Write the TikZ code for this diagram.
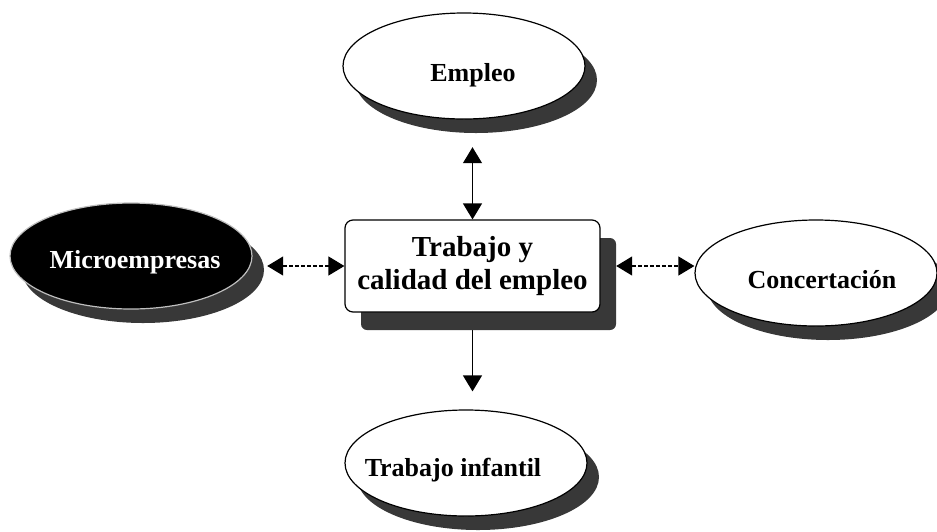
\documentclass[tikz,border=0pt]{standalone}
\usepackage{fontspec}
\setmainfont{Liberation Serif}
\usetikzlibrary{arrows.meta,shapes.geometric,backgrounds}
\begin{document}
\begin{tikzpicture}[x=1pt,y=-1pt,
  ell/.style={ellipse,draw=black,line width=1.2pt,fill=white,minimum width=242pt,minimum height=106pt,inner sep=0pt},
  ellsh/.style={ellipse,fill=black!78,minimum width=242pt,minimum height=106pt,inner sep=0pt},
  lbl/.style={font=\fontsize{26}{30}\selectfont\bfseries,inner sep=0pt},
  conn/.style={line width=1.2pt,{Triangle[length=16pt,width=19pt]}-{Triangle[length=16pt,width=19pt]}},
  hconn/.style={conn,dash pattern=on 4pt off 2pt}]
\useasboundingbox (0,0) rectangle (937,531);
% shadows
\node[ellsh] (esh) at (476,80) {};
\node[ellsh] (msh) at (143,270) {};
\node[ellsh] (csh) at (828,287) {};
\node[ellsh] (ish) at (478,477) {};
\node[fill=black!78,rounded corners=6pt,minimum width=255pt,minimum height=92pt] (bsh) at (488.5,284) {};
% central box
\node[draw,line width=1.2pt,rounded corners=8pt,fill=white,minimum width=255pt,minimum height=92pt,align=center,font=\fontsize{29}{33}\selectfont\bfseries] (box) at (472.5,266) {Trabajo y\\calidad del empleo};
% ellipses
\node[ell] (empleo) at (464,66) {};
\node[ell,fill=black,draw=black!25] (micro) at (131,256) {};
\node[ell] (conc) at (816,273) {};
\node[ell] (inf) at (466,463) {};
% labels
\node[lbl] (empleo-t) at (473,75) {Empleo};
\node[lbl,text=white] (micro-t) at (135,262) {Microempresas};
\node[lbl] (conc-t) at (822,280) {Concertación};
\node[lbl] (inf-t) at (453,470) {Trabajo infantil};
% connectors (behind the shapes)
\begin{scope}[on background layer]
\draw[conn,shorten <=14pt] (box.north |- esh.south) -- (box.north);
\draw[hconn,shorten >=3pt] (box.west) -- (box.west -| msh.east);
\draw[hconn] (box.east -| bsh.east) -- (box.east -| conc.west);
\draw[conn,shorten >=18pt] (box.south) -- (box.south |- inf.north);
\end{scope}
\end{tikzpicture}
\end{document}
